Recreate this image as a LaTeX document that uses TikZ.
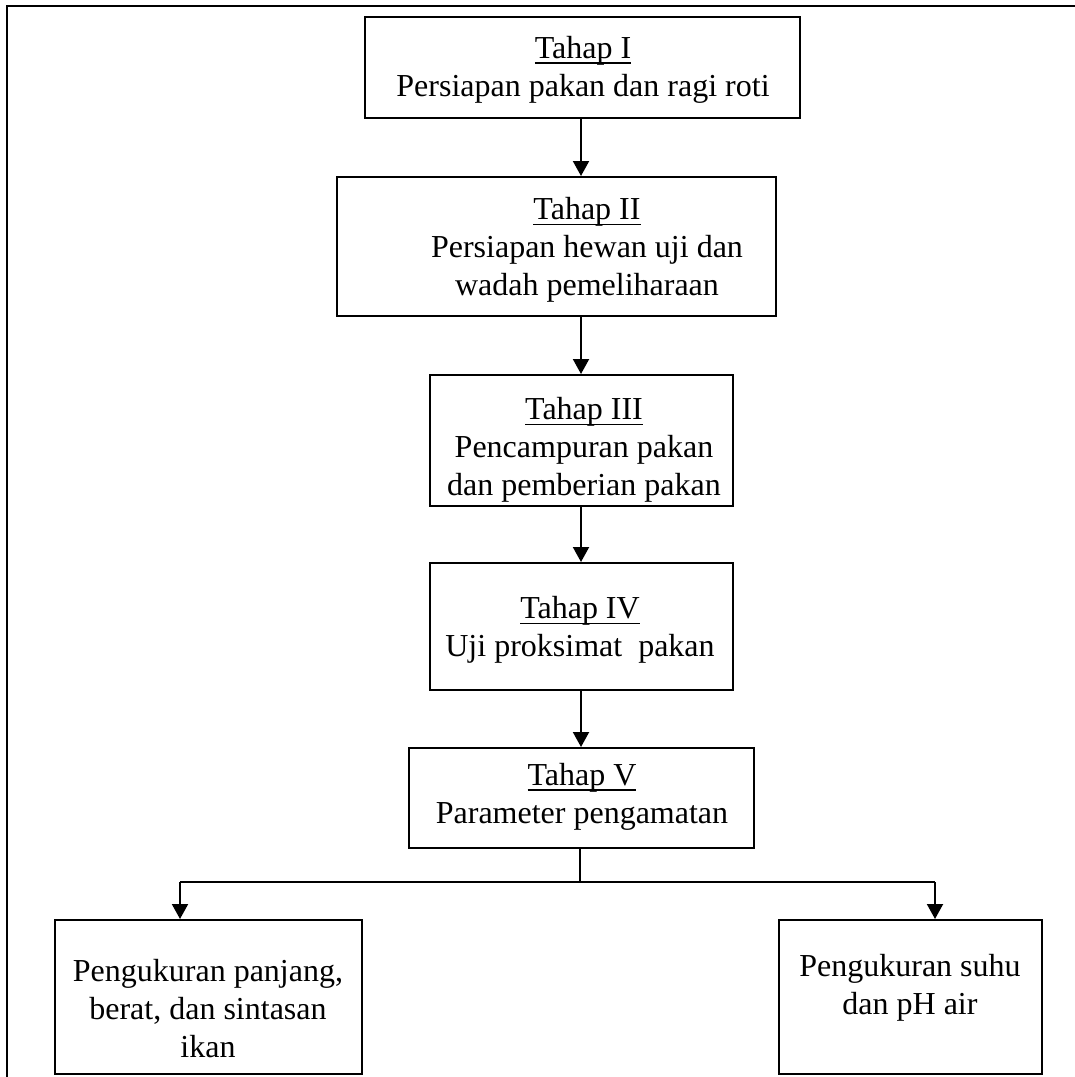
\documentclass[tikz,border=0pt]{standalone}
\usepackage{fontspec}
\setmainfont{Liberation Serif}
\usetikzlibrary{arrows.meta,fit}
\newcommand{\garisbawah}[1]{\setbox0\hbox{#1}\rlap{\rule[-2.8pt]{\wd0}{0.9pt}}\box0}
\tikzset{
  caja/.style={draw, line width=1pt, inner sep=0pt},
  texto/.style={align=center, inner sep=0pt, font=\fontsize{16}{19}\selectfont},
  flecha/.style={line width=1pt, -{Triangle[length=7.5pt,width=8pt]}},
}
\begin{document}
\begin{tikzpicture}[x=0.5pt, y=-0.5pt]
\useasboundingbox (0,0) rectangle (1075,1077);

% Marco
\draw[line width=1pt] (7,1077) -- (7,6) -- (1075,6);

\coordinate (eje) at (581,0);

% Tahapan
\node[caja, fit={(365,17) (800,118)}] (tahap1) {};
\node[texto] (tahap1teks) at (583,70)
  {\garisbawah{Tahap I}\\Persiapan pakan dan ragi roti};
\node[caja, fit={(337,177) (776,316)}] (tahap2) {};
\node[texto] (tahap2teks) at (587,250)
  {\garisbawah{Tahap II}\\Persiapan hewan uji dan\\wadah pemeliharaan};
\node[caja, fit={(430,375) (733,506)}] (tahap3) {};
\node[texto] (tahap3teks) at (584,450)
  {\garisbawah{Tahap III}\\Pencampuran pakan\\dan pemberian pakan};
\node[caja, fit={(430,563) (733,690)}] (tahap4) {};
\node[texto] (tahap4teks) at (580,630)
  {\garisbawah{Tahap IV}\\Uji proksimat\ \ pakan};
\node[caja, fit={(409,748) (754,848)}] (tahap5) {};
\node[texto] (tahap5teks) at (582,797)
  {\garisbawah{Tahap V}\\Parameter pengamatan};

% Pengukuran
\node[caja, fit={(55,920) (362,1074)}] (ukur1) {};
\node[texto] (ukur1teks) at (208,1009)
  {Pengukuran panjang,\\berat, dan sintasan\\ikan};
\node[caja, fit={(779,920) (1042,1074)}] (ukur2) {};
\node[texto] (ukur2teks) at (910,988)
  {Pengukuran suhu\\dan pH air};

% Panah
\draw[flecha] (tahap1.south -| eje) -- (tahap2.north -| eje);
\draw[flecha] (tahap2.south -| eje) -- (tahap3.north -| eje);
\draw[flecha] (tahap3.south -| eje) -- (tahap4.north -| eje);
\draw[flecha] (tahap4.south -| eje) -- (tahap5.north -| eje);

\coordinate (cabang) at (580,882);
\coordinate (kiri) at (180,882);
\coordinate (kanan) at (935,882);
\draw[line width=1pt] (tahap5.south -| cabang) -- (cabang);
\draw[line width=1pt] (kiri) -- (kanan);
\draw[flecha] (kiri) -- (ukur1.north -| kiri);
\draw[flecha] (kanan) -- (ukur2.north -| kanan);

\end{tikzpicture}
\end{document}
